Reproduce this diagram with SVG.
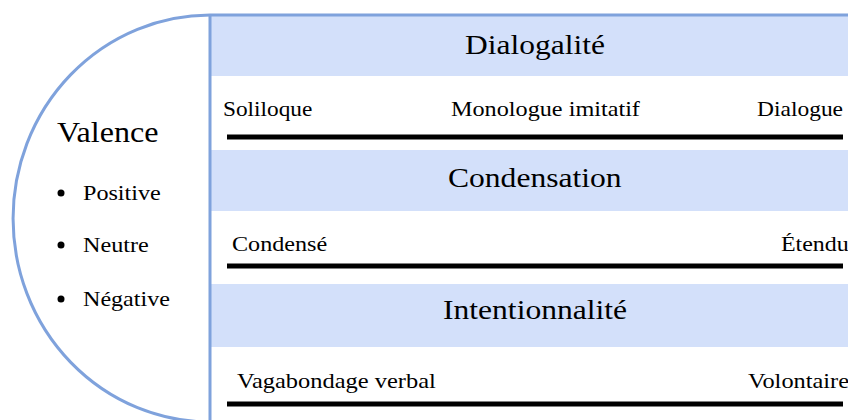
<svg xmlns="http://www.w3.org/2000/svg" width="848" height="420" viewBox="0 0 848 420">
  <style>
    .outline { fill: none; stroke: #7fa2dc; stroke-width: 3; }
    .band { fill: #d3e0fa; }
    .scale { stroke: #000; stroke-width: 5; }
  </style>
  <rect width="848" height="420" fill="#fff"/>

  <!-- bands behind each dimension title -->
  <g id="bands">
    <rect class="band" x="211" y="16" width="637" height="60"/>
    <rect class="band" x="211" y="150" width="637" height="61"/>
    <rect class="band" x="211" y="284" width="637" height="63"/>
  </g>

  <!-- half-ellipse frame and right panel edges -->
  <g id="frame">
    <path class="outline" d="M210,15 A197,203.5 0 0 0 210,422"/>
    <line class="outline" x1="210" y1="15" x2="210" y2="420"/>
    <line class="outline" x1="210" y1="15" x2="848" y2="15"/>
  </g>

  <!-- text is set in a slightly widened Times-style face -->
  <g font-family="Liberation Serif" fill="#000">
    <!-- left panel: valence -->
    <g id="valence">
      <text transform="translate(57,142) scale(1.106,1)" font-size="29">Valence</text>
      <circle cx="61" cy="193" r="3.5"/>
      <text transform="translate(83,200) scale(1.15,1)" font-size="21">Positive</text>
      <circle cx="61" cy="245" r="3.5"/>
      <text transform="translate(83,252) scale(1.15,1)" font-size="21">Neutre</text>
      <circle cx="61" cy="299" r="3.5"/>
      <text transform="translate(83,306) scale(1.147,1)" font-size="21">Négative</text>
    </g>

    <!-- dimension: dialogalité -->
    <g id="dialogalite">
      <text transform="translate(465,54) scale(1.125,1)" font-size="28">Dialogalité</text>
      <text transform="translate(223,116) scale(1.11,1)" font-size="21">Soliloque</text>
      <text transform="translate(451,116) scale(1.153,1)" font-size="21">Monologue imitatif</text>
      <text transform="translate(757,116) scale(1.118,1)" font-size="21">Dialogue</text>
    </g>

    <!-- dimension: condensation -->
    <g id="condensation">
      <text transform="translate(448,187) scale(1.128,1)" font-size="28">Condensation</text>
      <text transform="translate(232,251) scale(1.15,1)" font-size="21">Condensé</text>
      <text transform="translate(781,251) scale(1.14,1)" font-size="21">Étendu</text>
    </g>

    <!-- dimension: intentionnalité -->
    <g id="intentionnalite">
      <text transform="translate(443,319) scale(1.128,1)" font-size="28">Intentionnalité</text>
      <text transform="translate(237,388) scale(1.165,1)" font-size="21">Vagabondage verbal</text>
      <text transform="translate(748,388) scale(1.16,1)" font-size="21">Volontaire</text>
    </g>
  </g>

  <!-- continuum scales -->
  <g id="connectors">
    <line class="scale" x1="227" y1="137" x2="843" y2="137"/>
    <line class="scale" x1="227" y1="266" x2="843" y2="266"/>
    <line class="scale" x1="227" y1="404" x2="843" y2="404"/>
  </g>
</svg>
